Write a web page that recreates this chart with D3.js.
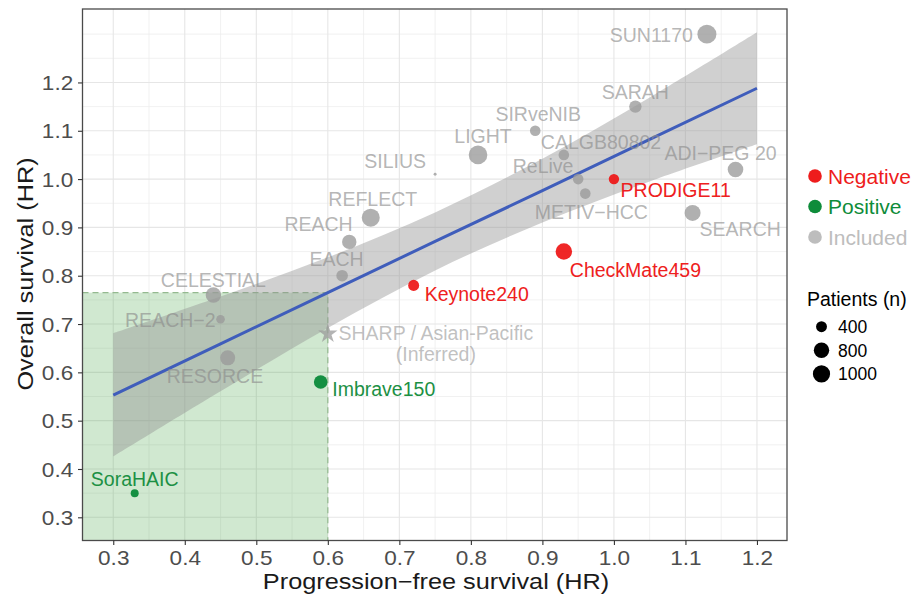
<!DOCTYPE html>
<html><head><meta charset="utf-8">
<script src="https://cdn.jsdelivr.net/npm/d3@7"></script>
<style>body{margin:0;background:#fff}svg{display:block;font-family:"Liberation Sans",Arial,sans-serif}</style>
</head><body><svg id="c" width="916" height="598"></svg>
<script>
// ---- data ----
const trials   = ["SUN1170","SARAH","SIRveNIB","CALGB80802","LIGHT","SILIUS","ReLive","METIV\u2212HCC","ADI\u2212PEG 20","SEARCH","REFLECT","REACH","EACH","CELESTIAL","REACH\u22122","RESORCE","PRODIGE11","CheckMate459","Keynote240","Imbrave150","SoraHAIC"];
const pfsHR    = [1.13,1.03,0.89,0.93,0.81,0.75,0.95,0.96,1.17,1.11,0.66,0.63,0.62,0.44,0.45,0.46,1.00,0.93,0.72,0.59,0.33];
const osHR     = [1.30,1.15,1.10,1.05,1.05,1.01,1.00,0.97,1.02,0.93,0.92,0.87,0.80,0.76,0.71,0.63,1.00,0.85,0.78,0.58,0.35];
const patients = [1220,520,380,380,1170,30,380,380,820,865,1095,700,455,800,250,760,365,910,410,625,215];
const outcome  = ["Included","Included","Included","Included","Included","Included","Included","Included","Included","Included","Included","Included","Included","Included","Included","Included","Negative","Negative","Negative","Positive","Positive"];

const inferredName = ["SHARP / Asian-Pacific","(Inferred)"];
const inferredPFS = 0.60;
const inferredOS = 0.68;

// regression fit and confidence band
const fitPFS   = [0.30,0.45,0.60,0.75,0.90,1.05,1.20];
const fitOS    = [0.553,0.659,0.765,0.871,0.976,1.082,1.188];
const fitLower = [0.426,0.561,0.692,0.811,0.910,0.995,1.072];
const fitUpper = [0.681,0.757,0.838,0.931,1.042,1.169,1.304];

// threshold region
const pfsThreshold = 0.60;
const osThreshold = 0.765;

const xTicks = [0.3,0.4,0.5,0.6,0.7,0.8,0.9,1.0,1.1,1.2];
const yTicks = [0.3,0.4,0.5,0.6,0.7,0.8,0.9,1.0,1.1,1.2];
const xMinor = [0.35,0.45,0.55,0.65,0.75,0.85,0.95,1.05,1.15];
const yMinor = [0.35,0.45,0.55,0.65,0.75,0.85,0.95,1.05,1.15,1.25,1.3];

const legendGroups = ["Negative","Positive","Included"];
const sizeBreaks = [400,800,1000];

// ---- layout / style ----
const pointFill = {Negative:"#EE1515", Positive:"#0B8A3A", Included:"#9A9A9A"};
const pointOpacity = {Negative:0.92, Positive:0.95, Included:0.78};
const labelFill = {Negative:"#EE2020", Positive:"#1C9044", Included:"#8C8C8C"};
const labelOpacity = {Negative:1, Positive:1, Included:0.65};
const legendColor = {Negative:"#EE1C1C", Positive:"#0E8C3A", Included:"#BDBDBD"};

// label placement [anchor, dx, dy(baseline)]
const labelLayout = {
  "SUN1170":["end",-14,8], "SARAH":["middle",0,-7.5], "SIRveNIB":["middle",3,-9.5],
  "CALGB80802":["start",-23,-6], "LIGHT":["middle",5,-11.7], "SILIUS":["end",-9,-6],
  "ReLive":["end",-4.7,-6], "METIV\u2212HCC":["middle",6,25.3], "ADI\u2212PEG 20":["middle",-15,-9.3],
  "SEARCH":["start",7,22.7], "REFLECT":["middle",2,-11.6], "REACH":["end",3.4,-10.6],
  "EACH":["middle",-5.6,-9.3], "CELESTIAL":["middle",0,-7.7], "REACH\u22122":["end",-5,8],
  "RESORCE":["middle",-12.7,24.7], "PRODIGE11":["start",6.7,18], "CheckMate459":["start",6,25.5],
  "Keynote240":["start",11,16], "Imbrave150":["start",11.6,14.3], "SoraHAIC":["middle",0,-6.7]
};

const svg = d3.select("#c");
const P = {l:82.5, r:787, t:9, b:540.5};
const x = d3.scaleLinear().domain([0.257,1.242]).range([P.l,P.r]);
const y = d3.scaleLinear().domain([0.252,1.352]).range([P.b,P.t]);
const rScale = d3.scaleSqrt().domain([0,1000]).range([0,8.6]);

svg.append("rect").attr("width",916).attr("height",598).attr("fill","#fff");
svg.append("defs").append("clipPath").attr("id","clip").append("rect")
  .attr("x",P.l).attr("y",P.t).attr("width",P.r-P.l).attr("height",P.b-P.t);

const panel = svg.append("g").attr("clip-path","url(#clip)");
// grid
panel.selectAll(".gxm").data(xMinor).join("line").attr("x1",d=>x(d)).attr("x2",d=>x(d)).attr("y1",P.t).attr("y2",P.b).attr("stroke","#eeeeee").attr("stroke-width",0.8);
panel.selectAll(".gym").data(yMinor).join("line").attr("y1",d=>y(d)).attr("y2",d=>y(d)).attr("x1",P.l).attr("x2",P.r).attr("stroke","#eeeeee").attr("stroke-width",0.8);
panel.selectAll(".gx").data(xTicks).join("line").attr("x1",d=>x(d)).attr("x2",d=>x(d)).attr("y1",P.t).attr("y2",P.b).attr("stroke","#e6e6e6").attr("stroke-width",1.1);
panel.selectAll(".gy").data(yTicks).join("line").attr("y1",d=>y(d)).attr("y2",d=>y(d)).attr("x1",P.l).attr("x2",P.r).attr("stroke","#e6e6e6").attr("stroke-width",1.1);

// threshold region
panel.append("rect").attr("x",P.l-2).attr("y",y(osThreshold)).attr("width",x(pfsThreshold)-P.l+2).attr("height",P.b-y(osThreshold)+2)
  .attr("fill","rgb(60,160,60)").attr("fill-opacity",0.24);
panel.append("path").attr("d",`M${P.l},${y(osThreshold)}H${x(pfsThreshold)}V${P.b}`)
  .attr("fill","none").attr("stroke","#93b98f").attr("stroke-width",1.2).attr("stroke-dasharray","6,4");

// ribbon
const band = fitPFS.map((p,i)=>({p, lo:fitLower[i], hi:fitUpper[i], m:fitOS[i]}));
panel.append("path").datum(band)
  .attr("d", d3.area().x(d=>x(d.p)).y0(d=>y(d.lo)).y1(d=>y(d.hi)).curve(d3.curveCatmullRom.alpha(0.5)))
  .attr("fill","#929292").attr("fill-opacity",0.43);
panel.append("path").datum(band)
  .attr("d", d3.line().x(d=>x(d.p)).y(d=>y(d.m)))
  .attr("fill","none").attr("stroke","#3F5DBB").attr("stroke-width",3);

// points
const pts = trials.map((t,i)=>({t, px:pfsHR[i], os:osHR[i], n:patients[i], g:outcome[i]}));
const order = {Included:0, Negative:1, Positive:1};
const sorted = pts.slice().sort((a,b)=>order[a.g]-order[b.g]);
panel.selectAll(".pt").data(sorted).join("circle")
  .attr("cx",d=>x(d.px)).attr("cy",d=>y(d.os)).attr("r",d=>rScale(d.n))
  .attr("fill",d=>pointFill[d.g]).attr("fill-opacity",d=>pointOpacity[d.g]);

// inferred star
panel.append("path").attr("d", d3.symbol().type(d3.symbolStar).size(115)())
  .attr("transform",`translate(${x(inferredPFS)},${y(inferredOS)})`)
  .attr("fill","#9a9a9a").attr("fill-opacity",0.75);

// labels
const lab = svg.append("g").style("font-size","19.5px");
lab.selectAll(".lb").data(pts).join("text")
  .attr("x",d=>x(d.px)+labelLayout[d.t][1]).attr("y",d=>y(d.os)+labelLayout[d.t][2])
  .attr("text-anchor",d=>labelLayout[d.t][0])
  .attr("fill",d=>labelFill[d.g]).attr("fill-opacity",d=>labelOpacity[d.g])
  .text(d=>d.t);
inferredName.forEach((s,i)=>{
  lab.append("text").attr("x",x(inferredPFS)+108).attr("y",y(inferredOS)+6+i*21)
    .attr("text-anchor","middle").attr("fill","#8c8c8c").attr("fill-opacity",0.55).text(s);
});

// panel border
svg.append("rect").attr("x",P.l).attr("y",P.t).attr("width",P.r-P.l).attr("height",P.b-P.t)
  .attr("fill","none").attr("stroke","#4a4a4a").attr("stroke-width",1.3);

// axes
const fmt = d3.format(".1f");
const xa = svg.append("g").attr("transform",`translate(0,${P.b})`)
  .call(d3.axisBottom(x).tickValues(xTicks).tickFormat(fmt).tickSize(4.5).tickPadding(0));
const ya = svg.append("g").attr("transform",`translate(${P.l},0)`)
  .call(d3.axisLeft(y).tickValues(yTicks).tickFormat(fmt).tickSize(4.5).tickPadding(0));
[xa,ya].forEach(a=>{
  a.select(".domain").remove();
  a.selectAll(".tick line").attr("stroke","#333").attr("stroke-width",1.1);
  a.selectAll(".tick text").attr("fill","#4d4d4d").style("font-size","20px")
   .style("font-family",'"Liberation Sans",Arial,sans-serif');
});
xa.selectAll(".tick text").attr("y",24.5).attr("dy",null).attr("transform","scale(1.13,1)");
ya.selectAll(".tick text").attr("x",-8.2).attr("dy","0.36em").attr("transform","scale(1.13,1)");

svg.append("text").attr("transform","translate(436,589) scale(1.15,1)").attr("text-anchor","middle")
  .style("font-size","22px").attr("fill","#1a1a1a").text("Progression\u2212free survival (HR)");
svg.append("text").attr("transform","translate(33,274) rotate(-90) scale(1.15,1)").attr("text-anchor","middle")
  .style("font-size","22px").attr("fill","#1a1a1a").text("Overall survival (HR)");

// colour legend
const lg = svg.append("g");
legendGroups.forEach((g,i)=>{
  const cy = 176 + i*30.5;
  lg.append("circle").attr("cx",815).attr("cy",cy).attr("r",6.8).attr("fill",legendColor[g]);
  lg.append("text").attr("x",828).attr("y",cy+7.5).style("font-size","21px").attr("fill",legendColor[g]).text(g);
});
// size legend
lg.append("text").attr("x",807).attr("y",306).style("font-size","19.5px").attr("fill","#000").text("Patients (n)");
sizeBreaks.forEach((n,i)=>{
  const cy = 326.7 + i*23.6;
  lg.append("circle").attr("cx",821.5).attr("cy",cy).attr("r",rScale(n)).attr("fill","#000");
  lg.append("text").attr("x",838).attr("y",cy+6.3).style("font-size","17.5px").attr("fill","#000").text(n);
});
</script></body></html>
